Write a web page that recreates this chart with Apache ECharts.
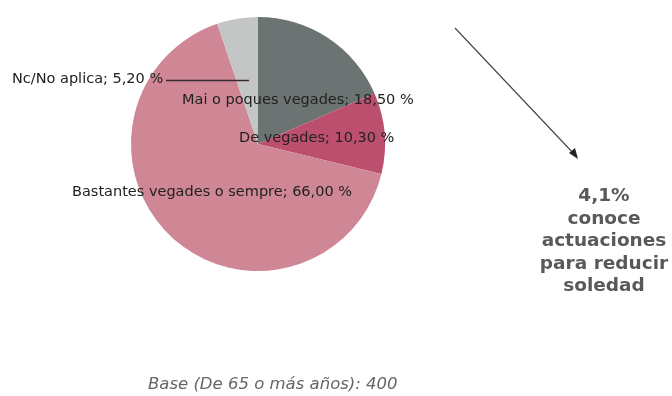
<!DOCTYPE html>
<html>
<head>
<meta charset="utf-8">
<script src="https://cdn.jsdelivr.net/npm/echarts@6/dist/echarts.min.js"></script>
<style>
  html, body { margin: 0; padding: 0; background: #fff; }
  #chart { width: 672px; height: 396px; }
</style>
</head>
<body>
<div id="chart"></div>
<script>
// categories and values
var categories = ['Mai o poques vegades', 'De vegades', 'Bastantes vegades o sempre', 'Nc/No aplica'];
var values = [18.5, 10.3, 66.0, 5.2];
var colors = ['#6b7472', '#bd4f6e', '#cf8796', '#c4c6c6'];

// where each label sits (left-middle point of the text)
var labelPos = [[182, 100], [239, 138], [72, 192], [12, 79]];

var chart = echarts.init(document.getElementById('chart'), null, { renderer: 'canvas' });

var option = {
    animation: false,
    backgroundColor: '#fff',
    series: [
        {
            type: 'pie',
            center: [258, 144],
            radius: 127,
            startAngle: 90,
            clockwise: true,
            label: {
                show: true,
                position: 'inside',
                color: '#222',
                fontFamily: 'DejaVu Sans',
                fontSize: 14.5,
                formatter: function (p) {
                    return p.name + '; ' + p.value.toFixed(2).replace('.', ',') + ' %';
                }
            },
            labelLine: { show: false },
            labelLayout: function (params) {
                var pos = labelPos[params.dataIndex];
                return { x: pos[0], y: pos[1], align: 'left', verticalAlign: 'middle' };
            },
            itemStyle: { borderWidth: 0 },
            emphasis: { disabled: true },
            data: categories.map(function (c, i) {
                return { name: c, value: values[i], itemStyle: { color: colors[i] } };
            })
        }
    ],
    graphic: [
        // leader line for Nc/No aplica
        {
            type: 'line',
            z: 100,
            shape: { x1: 166, y1: 80.5, x2: 249, y2: 80.5 },
            style: { stroke: '#3a2a30', lineWidth: 1.6 }
        },
        // arrow
        {
            type: 'line',
            z: 100,
            shape: { x1: 455, y1: 28, x2: 575, y2: 155 },
            style: { stroke: '#444', lineWidth: 1.1 }
        },
        {
            type: 'polygon',
            z: 100,
            shape: { points: [[578, 159], [569, 153], [575, 148]] },
            style: { fill: '#222' }
        },
        {
            type: 'text',
            z: 100,
            x: 604,
            y: 185,
            style: {
                text: '4,1%\nconoce\nactuaciones\npara reducir\nsoledad',
                align: 'center',
                verticalAlign: 'top',
                fontFamily: 'DejaVu Sans',
                fontWeight: 'bold',
                fontSize: 18.5,
                lineHeight: 22.5,
                fill: '#595959'
            }
        },
        {
            type: 'text',
            z: 100,
            x: 148,
            y: 385,
            style: {
                text: 'Base (De 65 o más años): 400',
                verticalAlign: 'middle',
                fontFamily: 'DejaVu Sans',
                fontStyle: 'italic',
                fontSize: 16.5,
                fill: '#666'
            }
        }
    ]
};

chart.setOption(option);
</script>
</body>
</html>
